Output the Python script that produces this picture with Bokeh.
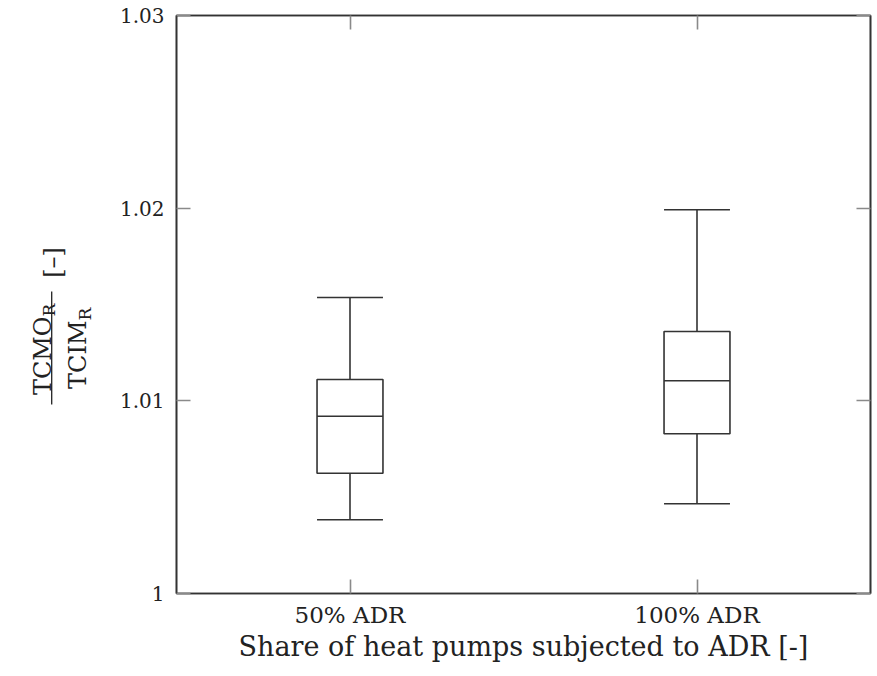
import math
from bokeh.plotting import figure
from bokeh.layouts import row
from bokeh.models import (FactorRange, Range1d, FixedTicker, NumeralTickFormatter,
                          LinearAxis, CategoricalAxis, ColumnDataSource,
                          CustomJSTickFormatter)
from bokeh.transform import dodge
from bokeh.core.properties import value
from bokeh.embed import file_html
from bokeh.resources import INLINE

# ---- data ----
categories = ["50% ADR", "100% ADR"]
whisker_low = [1.00383, 1.00466]
q1 = [1.00624, 1.00829]
median = [1.00920, 1.01104]
q3 = [1.01111, 1.01360]
whisker_high = [1.01536, 1.01992]
y_ticks = [1.0, 1.01, 1.02, 1.03]

FONT = "DejaVu Serif"
LINE = "#333333"
TXT = "#222222"
LW_LINE = 1.6

H = 672
LW = 100          # width of the y-label panel
MW = 775          # width of the main plot
FRAME_TOP, FRAME_BOTTOM = 15, 593

p = figure(width=MW, height=H, x_range=FactorRange(*categories),
           y_range=Range1d(1.0, 1.03), output_backend="svg", title=None,
           toolbar_location=None, min_border_left=176 - LW, min_border_right=5,
           min_border_top=FRAME_TOP, min_border_bottom=H - FRAME_BOTTOM)
p.xgrid.visible = False
p.ygrid.visible = False
p.outline_line_color = LINE
p.outline_line_width = LW_LINE
p.background_fill_color = "white"
p.border_fill_color = "white"

source = ColumnDataSource(dict(cat=categories, lo=whisker_low, q1=q1, med=median,
                               q3=q3, hi=whisker_high))
BW = 0.19

line_kw = dict(source=source, line_color=LINE, line_width=LW_LINE)
p.segment(x0="cat", y0="q3", x1="cat", y1="hi", **line_kw)
p.segment(x0="cat", y0="lo", x1="cat", y1="q1", **line_kw)
for col in ("hi", "lo"):
    p.segment(x0=dodge("cat", -BW / 2, range=p.x_range), y0=col,
              x1=dodge("cat", BW / 2, range=p.x_range), y1=col, **line_kw)
p.vbar(x="cat", width=BW, bottom="q1", top="q3", fill_color="white", **line_kw)
p.segment(x0=dodge("cat", -BW / 2, range=p.x_range), y0="med",
          x1=dodge("cat", BW / 2, range=p.x_range), y1="med", **line_kw)


def style_axis(ax, labels=True):
    ax.axis_line_color = LINE
    ax.axis_line_width = LW_LINE
    ax.major_tick_in = 14
    ax.major_tick_out = 0
    ax.major_tick_line_color = "#8a8a8a"
    ax.major_tick_line_width = 1.6
    ax.minor_tick_line_color = None
    ax.major_label_text_font = FONT
    ax.major_label_text_color = TXT
    ax.axis_label_text_font = FONT
    ax.axis_label_text_font_style = "normal"
    ax.axis_label_text_color = TXT
    if not labels:
        ax.formatter = CustomJSTickFormatter(code="return ''")
        ax.major_label_text_color = None
        ax.major_label_standoff = 0


ya = p.yaxis[0]
ya.ticker = FixedTicker(ticks=y_ticks)
ya.formatter = NumeralTickFormatter(format="0.[00]")
style_axis(ya)
ya.major_label_text_font_size = "20px"
ya.major_label_standoff = 12

xa = p.xaxis[0]
style_axis(xa)
xa.major_label_text_font_size = "23px"
xa.major_label_standoff = 8
xa.axis_label = "Share of heat pumps subjected to ADR [-]"
xa.axis_label_text_font_size = "27px"
xa.axis_label_standoff = 0

top = CategoricalAxis()
style_axis(top, labels=False)
p.add_layout(top, "above")
right = LinearAxis(ticker=FixedTicker(ticks=y_ticks))
style_axis(right, labels=False)
p.add_layout(right, "right")

# ---- y-label panel: rotated fraction  TCMO_R / TCIM_R  [–] ----
# (the panel's frame is aligned with the main frame: page y 15..593)
FH = FRAME_BOTTOM - FRAME_TOP
q = figure(width=LW, height=H, x_range=Range1d(0, LW), y_range=Range1d(0, FH),
           output_backend="svg", toolbar_location=None, title=None,
           min_border=0, min_border_left=0, min_border_right=0,
           min_border_top=0, min_border_bottom=0)
q.axis.visible = False
q.grid.visible = False
q.outline_line_color = None
q.background_fill_color = "white"
q.border_fill_color = "white"

rot = math.pi / 2
def put(txt, px, py, size, align):
    q.text(x=[px], y=[FRAME_BOTTOM - py], text=[txt], angle=rot,
           text_font=value(FONT), text_font_size=size, text_color=TXT,
           text_align=align, text_baseline="alphabetic")

put("TCMO", 42, 316, "24px", "right")
put("R", 48.5, 316, "17px", "left")
put("TCIM", 77, 320, "24px", "right")
put("R", 84, 320, "17px", "left")
put("[–]", 52, 262, "24px", "center")
q.segment(x0=[51.2], y0=[FRAME_BOTTOM - 291], x1=[51.2], y1=[FRAME_BOTTOM - 404],
          line_color=TXT, line_width=1.3)

layout = row(q, p)
open("out.html", "w").write(file_html(layout, INLINE))
